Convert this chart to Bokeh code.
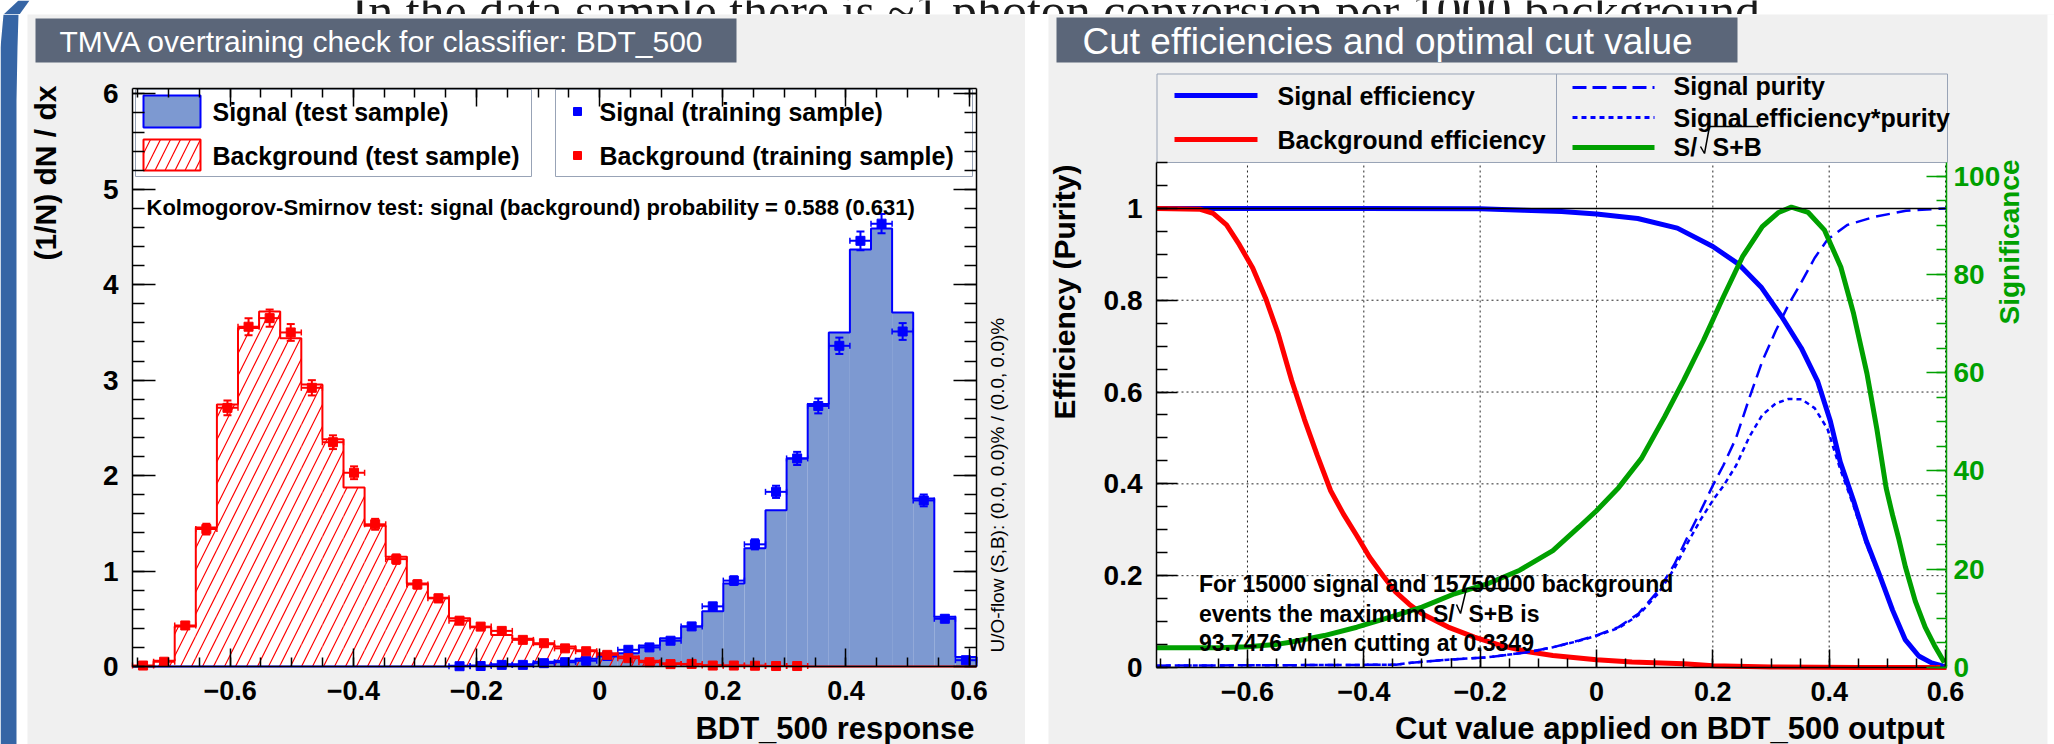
import numpy as np
from bokeh.plotting import figure
from bokeh.models import Range1d, LinearAxis, FixedTicker, Spacer
from bokeh.layouts import row, column
from bokeh.embed import file_html
from bokeh.resources import INLINE
from bokeh.core.properties import value

# ---------------- data ----------------
HIST_XMIN = -0.7586
HIST_XMAX = 0.612
N_BINS = 40

# test-sample histograms (normalised), one value per bin
bkg_test = [0.005, 0.06, 0.42, 1.456, 2.746, 3.547, 3.72, 3.44, 2.955, 2.38,
            1.875, 1.474, 1.15, 0.87, 0.72, 0.505, 0.41, 0.33, 0.29, 0.233,
            0.21, 0.17, 0.14, 0.105, 0.06, 0.035, 0.02, 0.012, 0.01, 0.008,
            0.005, 0.003, 0.0, 0.0, 0.0, 0.0, 0.0, 0.0, 0.0, 0.0]
sig_test = [0.0, 0.0, 0.0, 0.0, 0.0, 0.0, 0.0, 0.0, 0.0, 0.0,
            0.0, 0.0, 0.0, 0.0, 0.0, 0.007, 0.01, 0.024, 0.024, 0.05,
            0.06, 0.08, 0.105, 0.14, 0.22, 0.296, 0.42, 0.58, 0.87, 1.24,
            1.636, 2.18, 2.75, 3.5, 4.37, 4.59, 3.71, 1.76, 0.52, 0.10]

# training-sample points (first bin index, values, errors)
bkg_train_first_bin = 0
bkg_train = [0.01, 0.05, 0.43, 1.44, 2.71, 3.56, 3.65, 3.50, 2.92, 2.35,
             2.03, 1.49, 1.125, 0.86, 0.714, 0.48, 0.418, 0.373, 0.279, 0.244,
             0.19, 0.16, 0.122, 0.087, 0.045, 0.025, 0.027, 0.01, 0.01, 0.008,
             0.005, 0.005]
bkg_train_err = [0.005, 0.011, 0.031, 0.056, 0.077, 0.089, 0.090, 0.088, 0.080, 0.072,
                 0.067, 0.057, 0.050, 0.044, 0.040, 0.033, 0.030, 0.029, 0.025, 0.023,
                 0.020, 0.019, 0.016, 0.014, 0.010, 0.007, 0.008, 0.005, 0.005, 0.004,
                 0.003, 0.003]
sig_train_first_bin = 15
sig_train = [0.003, 0.005, 0.017, 0.017, 0.035, 0.045, 0.06, 0.11, 0.175, 0.2,
             0.27, 0.42, 0.63, 0.90, 1.28, 1.83, 2.18, 2.73, 3.36, 4.46,
             4.64, 3.51, 1.74, 0.50, 0.066]
sig_train_err = [0.003, 0.003, 0.006, 0.006, 0.009, 0.010, 0.012, 0.016, 0.020, 0.021,
                 0.024, 0.030, 0.037, 0.045, 0.053, 0.064, 0.069, 0.078, 0.086, 0.099,
                 0.101, 0.088, 0.062, 0.033, 0.012]

# cut-efficiency curves
sig_eff_x = [-0.756, -0.40, -0.20, -0.125, -0.06, 0.0, 0.071, 0.139, 0.200, 0.245,
             0.284, 0.318, 0.352, 0.380, 0.402, 0.419, 0.442, 0.464, 0.487, 0.509,
             0.531, 0.554, 0.576, 0.593, 0.6017]
sig_eff_y = [1.0, 1.0, 0.999, 0.996, 0.993, 0.988, 0.978, 0.957, 0.917, 0.878,
             0.827, 0.765, 0.696, 0.624, 0.537, 0.448, 0.363, 0.275, 0.200, 0.125,
             0.060, 0.025, 0.010, 0.004, 0.0]
bkg_eff_x = [-0.756, -0.681, -0.659, -0.636, -0.614, -0.591, -0.569, -0.547, -0.524, -0.502,
             -0.480, -0.457, -0.435, -0.412, -0.390, -0.367, -0.345, -0.322, -0.300, -0.255,
             -0.210, -0.165, -0.120, -0.075, 0.0, 0.061, 0.150, 0.200, 0.300, 0.450, 0.6017]
bkg_eff_y = [1.0, 0.998, 0.989, 0.964, 0.921, 0.870, 0.805, 0.726, 0.625, 0.540,
             0.462, 0.385, 0.334, 0.287, 0.240, 0.200, 0.164, 0.138, 0.117, 0.088,
             0.066, 0.048, 0.035, 0.026, 0.017, 0.012, 0.008, 0.004, 0.001, 0.0, 0.0]
pur_x = [-0.756, -0.345, -0.322, -0.255, -0.188, -0.120, -0.075, -0.030, 0.0, 0.038,
         0.072, 0.106, 0.134, 0.156, 0.179, 0.201, 0.218, 0.240, 0.263, 0.285,
         0.308, 0.330, 0.353, 0.375, 0.397, 0.431, 0.476, 0.532, 0.6017]
pur_y = [0.004, 0.006, 0.010, 0.017, 0.022, 0.033, 0.044, 0.059, 0.070, 0.088,
         0.117, 0.167, 0.225, 0.283, 0.341, 0.399, 0.44, 0.50, 0.588, 0.667,
         0.733, 0.790, 0.841, 0.892, 0.932, 0.964, 0.981, 0.995, 1.0]
effpur_x = [-0.756, -0.345, -0.322, -0.255, -0.188, -0.120, -0.075, -0.030, 0.0, 0.038,
            0.072, 0.106, 0.134, 0.156, 0.179, 0.201, 0.218, 0.240, 0.263, 0.285,
            0.308, 0.330, 0.353, 0.375, 0.397, 0.419, 0.442, 0.464, 0.487, 0.509,
            0.531, 0.554, 0.576, 0.6017]
effpur_y = [0.004, 0.006, 0.010, 0.017, 0.022, 0.033, 0.044, 0.058, 0.069, 0.086,
            0.114, 0.161, 0.216, 0.27, 0.322, 0.366, 0.395, 0.44, 0.503, 0.55,
            0.575, 0.585, 0.584, 0.565, 0.52, 0.432, 0.352, 0.268, 0.196, 0.123,
            0.060, 0.025, 0.010, 0.0]
signif_x = [-0.756, -0.65, -0.60, -0.55, -0.524, -0.468, -0.412, -0.356, -0.300, -0.244,
            -0.188, -0.132, -0.075, -0.030, 0.0, 0.038, 0.077, 0.117, 0.150, 0.184,
            0.218, 0.251, 0.285, 0.313, 0.335, 0.364, 0.392, 0.420, 0.442, 0.465,
            0.482, 0.498, 0.509, 0.520, 0.531, 0.548, 0.565, 0.581, 0.598]
signif_y = [4.0, 4.0, 4.2, 4.7, 5.2, 6.5, 8.2, 10.2, 12.3, 15.0,
            17.0, 19.8, 23.8, 28.6, 31.9, 36.6, 42.5, 51.0, 58.5, 66.6,
            75.4, 83.6, 89.7, 92.6, 93.7, 92.6, 89.0, 81.5, 72.0, 59.8,
            48.5, 36.5, 31.0, 26.0, 20.5, 13.5, 8.2, 4.5, 1.0]

hist_x_ticks = [-0.6, -0.4, -0.2, 0.0, 0.2, 0.4, 0.6]
hist_x_labels = ["\u22120.6", "\u22120.4", "\u22120.2", "0", "0.2", "0.4", "0.6"]
hist_y_ticks = [0, 1, 2, 3, 4, 5, 6]
eff_y_ticks = [0.0, 0.2, 0.4, 0.6, 0.8, 1.0]
eff_y_labels = ["0", "0.2", "0.4", "0.6", "0.8", "1"]
signif_ticks = [0, 20, 40, 60, 80, 100]

# ---------------- styling constants ----------------
FONT = "Liberation Sans"
PANEL = "#f0f0f0"
SLATE = "#5b6679"
BLUE = "#0000ff"
RED = "#ff0000"
GREEN = "#00a000"
SIGFILL = "#7d99d1"
LEGBORDER = "#98a3b6"
SLIDEBLUE = "#3665a5"
FIG_H = 730  # panels span page y 14..744


def bare(width, height, xr, yr, bg):
    p = figure(width=width, height=height, x_range=Range1d(*xr), y_range=Range1d(*yr),
               x_axis_type=None, y_axis_type=None, toolbar_location=None,
               output_backend="svg", min_border=0, outline_line_color=None,
               background_fill_color=bg, border_fill_color=bg)
    p.grid.visible = False
    return p


def style_axis(ax, size, color="black", tick_in=20, minor_in=10, standoff=12, labels=True):
    ax.axis_line_color = color
    ax.axis_line_width = 1.5
    ax.major_tick_line_color = color
    ax.minor_tick_line_color = color
    ax.major_tick_line_width = 1.5
    ax.minor_tick_line_width = 1.5
    ax.major_tick_in = tick_in
    ax.major_tick_out = 0
    ax.minor_tick_in = minor_in
    ax.minor_tick_out = 0
    ax.major_label_text_font = FONT
    ax.major_label_text_font_style = "bold"
    ax.major_label_text_font_size = f"{size}px" if labels else "1px"
    ax.major_label_text_color = color
    ax.major_label_standoff = standoff
    if not labels:
        ax.major_label_text_alpha = 0


def bold_text(p, x, y, txt, size, **kw):
    opts = dict(text_font=value(FONT), text_font_style="bold", text_font_size=f"{size}px",
                text_color="black", text_baseline="middle")
    opts.update(kw)
    p.text(x=x, y=y, text=txt, **opts)


# ---------------- top strip (slide text, cut off by the page edge as in the source) ----------------
strip = bare(2054, 14, (0, 2054), (14, 0), "white")
strip.patch([18, 29, 19, 3], [0, 0, 14, 14], color=SLIDEBLUE, line_color=None)
strip.text(x=[351], y=[10], text=["In the data sample there is ~1 photon conversion per 1000 background"],
           text_font=value("Liberation Serif"), text_font_size="50px",
           text_baseline="alphabetic", text_color="#1a1a1a")

# ---------------- slide blue bar ----------------
bar = bare(27, FIG_H, (0, 27), (744, 14), "white")
bar.patch([0, 3, 18, 17, 16, 16, 0], [47, 14, 14, 47, 100, 744, 744], color=SLIDEBLUE, line_color=None)

# ---------------- left panel (page x 27..1025) ----------------
YMAX_L = 6.056
LF_L, LF_R, LF_T, LF_B = 132, 976, 88, 666  # page pixels of the plot box


def lx(px):
    return HIST_XMIN + (px - LF_L) / (LF_R - LF_L) * (HIST_XMAX - HIST_XMIN)


def ly(py):
    return (LF_B - py) / (LF_B - LF_T) * YMAX_L


pL = figure(width=998, height=FIG_H, x_range=Range1d(lx(27), lx(1025)), y_range=Range1d(ly(744), ly(14)),
            output_backend="svg", toolbar_location=None, min_border=0,
            background_fill_color=PANEL, border_fill_color=PANEL, outline_line_color=None)
pL.grid.visible = False

# title box
pL.quad(left=[lx(35)], right=[lx(736)], top=[ly(18)], bottom=[ly(62)], fill_color=SLATE, line_color=None)
pL.text(x=[lx(59)], y=[ly(41)], text=["TMVA overtraining check for classifier: BDT_500"],
        text_font=value(FONT), text_font_size="30px", text_color="white", text_baseline="middle")

# plot area
pL.quad(left=[HIST_XMIN], right=[HIST_XMAX], bottom=[0], top=[YMAX_L], fill_color="white", line_color=None)

x_minor = [round(-0.75 + 0.05 * i, 2) for i in range(28)]
y_minor_L = [round(0.2 * i, 1) for i in range(31)]

axb = pL.xaxis[0]
axb.ticker = FixedTicker(ticks=hist_x_ticks, minor_ticks=x_minor)
axb.major_label_overrides = dict(zip(hist_x_ticks, hist_x_labels))
axb.fixed_location = 0
axb.bounds = (HIST_XMIN, HIST_XMAX)
style_axis(axb, 27, tick_in=18, minor_in=9, standoff=14)

axl = pL.yaxis[0]
axl.ticker = FixedTicker(ticks=hist_y_ticks, minor_ticks=y_minor_L)
axl.fixed_location = HIST_XMIN
axl.bounds = (0, YMAX_L)
style_axis(axl, 28, tick_in=23, minor_in=12, standoff=14)

axr = LinearAxis(ticker=FixedTicker(ticks=hist_y_ticks, minor_ticks=y_minor_L),
                 fixed_location=HIST_XMAX, bounds=(0, YMAX_L))
style_axis(axr, 28, tick_in=23, minor_in=12, standoff=2, labels=False)
pL.add_layout(axr, "right")

axt = LinearAxis(ticker=FixedTicker(ticks=hist_x_ticks, minor_ticks=x_minor),
                 fixed_location=YMAX_L, bounds=(HIST_XMIN, HIST_XMAX))
style_axis(axt, 27, tick_in=18, minor_in=9, standoff=2, labels=False)
pL.add_layout(axt, "above")

edges = HIST_XMIN + (HIST_XMAX - HIST_XMIN) / N_BINS * np.arange(N_BINS + 1)
centers = 0.5 * (edges[:-1] + edges[1:])


def step_path(vals):
    xs, ys = [edges[0]], [0.0]
    for i, v in enumerate(vals):
        xs += [edges[i], edges[i + 1]]
        ys += [v, v]
    xs.append(edges[-1])
    ys.append(0.0)
    return xs, ys


pL.quad(left=edges[:-1], right=edges[1:], bottom=0, top=sig_test,
        fill_color=SIGFILL, line_color=None)
pL.quad(left=edges[:-1], right=edges[1:], bottom=0, top=bkg_test,
        fill_color=None, line_color=None, hatch_pattern="/", hatch_color=RED,
        hatch_scale=22, hatch_weight=1.2)
sx, sy = step_path(sig_test)
pL.line(sx, sy, line_color=BLUE, line_width=2)
bx, by = step_path(bkg_test)
pL.line(bx, by, line_color=RED, line_width=2)


def draw_points(p, first, vals, errs, color):
    idx = np.arange(first, first + len(vals))
    c = centers[idx]
    lft = edges[idx]
    rgt = edges[idx + 1]
    v = np.array(vals)
    e = np.array(errs)
    p.segment(lft, v, rgt, v, line_color=color, line_width=2)
    p.segment(c, v - e, c, v + e, line_color=color, line_width=2)
    p.scatter(c, v + e, marker="dash", size=8, line_color=color, line_width=2)
    p.scatter(c, v - e, marker="dash", size=8, line_color=color, line_width=2)
    p.scatter(lft, v, marker="dash", angle=np.pi / 2, size=6, line_color=color, line_width=1.5)
    p.scatter(rgt, v, marker="dash", angle=np.pi / 2, size=6, line_color=color, line_width=1.5)
    p.scatter(c, v, marker="square", size=9, color=color)


draw_points(pL, sig_train_first_bin, sig_train, sig_train_err, BLUE)
draw_points(pL, bkg_train_first_bin, bkg_train, bkg_train_err, RED)

# legend boxes
pL.quad(left=[lx(135), lx(555)], right=[lx(531), lx(972)], top=[ly(89), ly(89)],
        bottom=[ly(176), ly(176)], fill_color="white", line_color=LEGBORDER, line_width=1)
pL.quad(left=[lx(143)], right=[lx(200)], top=[ly(95)], bottom=[ly(127)],
        fill_color=SIGFILL, line_color=BLUE, line_width=2)
pL.quad(left=[lx(143)], right=[lx(200)], top=[ly(139)], bottom=[ly(170)],
        fill_color="white", line_color=RED, line_width=2, hatch_pattern="/",
        hatch_color=RED, hatch_scale=20, hatch_weight=1.2)
pL.scatter([lx(577)], [ly(111)], marker="square", size=8, color=BLUE)
pL.scatter([lx(577)], [ly(155)], marker="square", size=8, color=RED)
bold_text(pL, [lx(212), lx(212), lx(599), lx(599)], [ly(111), ly(155), ly(111), ly(155)],
          ["Signal (test sample)", "Background (test sample)",
           "Signal (training sample)", "Background (training sample)"], 25)
bold_text(pL, [lx(146)], [ly(207)],
          ["Kolmogorov-Smirnov test: signal (background) probability = 0.588 (0.631)"], 22,
          text_baseline="alphabetic")

# axis titles and over/underflow note
bold_text(pL, [lx(44.5)], [ly(85)], ["(1/N) dN / dx"], 30, angle=np.pi / 2, text_align="right")
bold_text(pL, [lx(974)], [ly(728)], ["BDT_500 response"], 31, text_align="right",
          text_baseline="alphabetic")
pL.text(x=[lx(996.5)], y=[ly(652)], text=["U/O-flow (S,B): (0.0, 0.0)% / (0.0, 0.0)%"],
        angle=np.pi / 2, text_align="left", text_baseline="middle",
        text_font=value(FONT), text_font_size="19px", text_color="black")

# ---------------- right panel (page x 1048..2054) ----------------
RX0, RX1 = -0.7564, 0.6017
RF_L, RF_R, RF_B = 1156, 1946, 667
PX_PER_EFF = 459.1
SIG_PER_EFF = 93.43
EFF_TOP = 1.1


def rx(px):
    return RX0 + (px - RF_L) / (RF_R - RF_L) * (RX1 - RX0)


def ry(py):
    return (RF_B - py) / PX_PER_EFF


pR = figure(width=1006, height=FIG_H, x_range=Range1d(rx(1048), rx(2054)), y_range=Range1d(ry(744), ry(14)),
            output_backend="svg", toolbar_location=None, min_border=0,
            background_fill_color=PANEL, border_fill_color=PANEL, outline_line_color=None)
pR.grid.visible = False
pR.extra_y_ranges = {"sig": Range1d(ry(744) * SIG_PER_EFF, ry(14) * SIG_PER_EFF)}

# white slide margin on the far right
pR.quad(left=[rx(2047)], right=[rx(2060)], bottom=[ry(760)], top=[ry(0)], fill_color="white", line_color=None)

# title box
pR.quad(left=[rx(1056)], right=[rx(1737)], top=[ry(17)], bottom=[ry(62)], fill_color=SLATE, line_color=None)
pR.text(x=[rx(1082)], y=[ry(41)], text=["Cut efficiencies and optimal cut value"],
        text_font=value(FONT), text_font_size="37px", text_color="white", text_baseline="middle")

# plot area + dotted grid
pR.quad(left=[RX0], right=[RX1], bottom=[0], top=[EFF_TOP], fill_color="white", line_color=None)
grid_y = [0.2, 0.4, 0.6, 0.8]
pR.segment(hist_x_ticks, [0] * len(hist_x_ticks), hist_x_ticks, [EFF_TOP] * len(hist_x_ticks),
           line_color="black", line_width=1, line_dash="2 3", line_alpha=0.85)
pR.segment([RX0] * len(grid_y), grid_y, [RX1] * len(grid_y), grid_y,
           line_color="black", line_width=1, line_dash="2 3", line_alpha=0.85)

y_minor_R = [round(0.05 * i, 2) for i in range(23)]
axb = pR.xaxis[0]
axb.ticker = FixedTicker(ticks=hist_x_ticks, minor_ticks=x_minor)
axb.major_label_overrides = dict(zip(hist_x_ticks, hist_x_labels))
axb.fixed_location = 0
axb.bounds = (RX0, RX1)
style_axis(axb, 27, tick_in=18, minor_in=9, standoff=14)

axl = pR.yaxis[0]
axl.ticker = FixedTicker(ticks=eff_y_ticks, minor_ticks=y_minor_R)
axl.major_label_overrides = dict(zip(eff_y_ticks, eff_y_labels))
axl.fixed_location = RX0
axl.bounds = (0, EFF_TOP)
style_axis(axl, 28, tick_in=21, minor_in=11, standoff=14)

axs = LinearAxis(y_range_name="sig", fixed_location=RX1, bounds=(0, EFF_TOP * SIG_PER_EFF),
                 ticker=FixedTicker(ticks=signif_ticks, minor_ticks=list(range(0, 101, 5))))
style_axis(axs, 28, color=GREEN, tick_in=20, minor_in=10, standoff=7)
pR.add_layout(axs, "right")

# curves
pR.line(sig_eff_x, sig_eff_y, line_color=BLUE, line_width=5)
pR.line(bkg_eff_x, bkg_eff_y, line_color=RED, line_width=5)
pR.line(pur_x, pur_y, line_color=BLUE, line_width=2.5, line_dash="14 7")
pR.line(effpur_x, effpur_y, line_color=BLUE, line_width=2.5, line_dash="5 4")
pR.line(signif_x, signif_y, line_color=GREEN, line_width=5, y_range_name="sig")
pR.segment([RX0], [1.0], [RX1], [1.0], line_color="black", line_width=1.5)

# legend (above the plot box)
pR.quad(left=[rx(1156.5)], right=[rx(1947)], top=[ry(73.5)], bottom=[EFF_TOP],
        fill_color=PANEL, line_color=LEGBORDER, line_width=1)
pR.segment([rx(1556)], [ry(73.5)], [rx(1556)], [EFF_TOP], line_color=LEGBORDER, line_width=1)
pR.segment([rx(1174)], [ry(95)], [rx(1257)], [ry(95)], line_color=BLUE, line_width=5)
pR.segment([rx(1174)], [ry(139)], [rx(1257)], [ry(139)], line_color=RED, line_width=5)
pR.segment([rx(1572)], [ry(87)], [rx(1654)], [ry(87)], line_color=BLUE, line_width=3, line_dash="14 6")
pR.segment([rx(1572)], [ry(117)], [rx(1654)], [ry(117)], line_color=BLUE, line_width=3, line_dash="5 4")
pR.segment([rx(1572)], [ry(147)], [rx(1654)], [ry(147)], line_color=GREEN, line_width=5)
bold_text(pR, [rx(1277), rx(1277), rx(1673), rx(1673), rx(1673), rx(1712)],
          [ry(95), ry(139), ry(85), ry(117), ry(146), ry(146)],
          ["Signal efficiency", "Background efficiency", "Signal purity",
           "Signal efficiency*purity", "S/", "S+B"], 25)
pR.line([rx(1700), rx(1704), rx(1709), rx(1758)], [ry(146), ry(153), ry(126), ry(126)],
        line_color="black", line_width=1.5)

# result text
bold_text(pR, [rx(1198.5), rx(1198.5), rx(1468), rx(1198.5)],
          [ry(583), ry(613), ry(613), ry(642)],
          ["For 15000 signal and 15750000 background", "events the maximum S/",
           "S+B is", "93.7476 when cutting at 0.3349"], 23, text_baseline="alphabetic")
pR.line([rx(1456), rx(1460), rx(1466), rx(1517)], [ry(604), ry(613), ry(588), ry(588)],
        line_color="black", line_width=1.5)

# axis titles
bold_text(pR, [rx(1064)], [ry(164)], ["Efficiency (Purity)"], 30, angle=np.pi / 2, text_align="right")
bold_text(pR, [rx(2008.5)], [ry(159)], ["Significance"], 28, angle=np.pi / 2, text_align="right",
          text_color=GREEN)
bold_text(pR, [rx(1944)], [ry(728)], ["Cut value applied on BDT_500 output"], 31, text_align="right",
          text_baseline="alphabetic")

# ---------------- assemble ----------------
layout = column(strip, row(bar, pL, Spacer(width=23, height=FIG_H), pR))

open("out.html", "w").write(file_html(layout, INLINE))
